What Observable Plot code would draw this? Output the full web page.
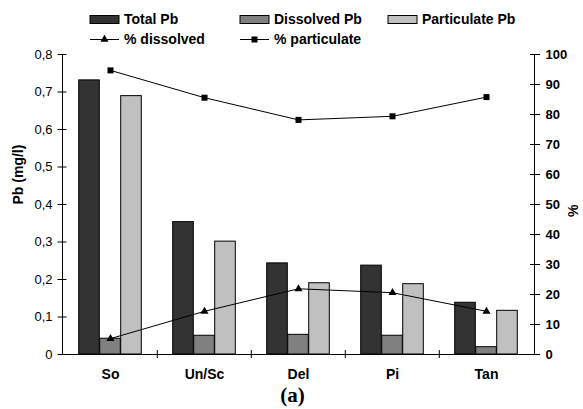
<!DOCTYPE html>
<html>
<head>
<meta charset="utf-8">
<script src="https://cdn.jsdelivr.net/npm/d3@7"></script>
<script src="https://cdn.jsdelivr.net/npm/@observablehq/plot@0.6"></script>
<style>
  html, body { margin: 0; padding: 0; background: #fff; }
  #wrap { position: relative; width: 583px; height: 409px; font-family: "Liberation Sans", Arial, sans-serif; }
  #legend { position: absolute; left: 0; top: 0; width: 583px; height: 50px; }
  #chart { position: absolute; left: 0; top: 0; }
</style>
</head>
<body>
<div id="wrap">
  <div id="chart"></div>
  <svg id="legend" width="583" height="50"></svg>
</div>
<script>
// ---- data ----
const categories = ["So", "Un/Sc", "Del", "Pi", "Tan"];
const totalPb = [0.731, 0.353, 0.243, 0.237, 0.138];
const dissolvedPb = [0.042, 0.050, 0.0525, 0.050, 0.0195];
const particulatePb = [0.689, 0.301, 0.190, 0.1875, 0.1165];
const pctDissolved = [5.3, 14.4, 21.9, 20.6, 14.4];
const pctParticulate = [94.7, 85.6, 78.2, 79.4, 85.8];
const leftTicks = [0, 0.1, 0.2, 0.3, 0.4, 0.5, 0.6, 0.7, 0.8];
const rightTicks = [0, 10, 20, 30, 40, 50, 60, 70, 80, 90, 100];
const barSeries = ["Total Pb", "Dissolved Pb", "Particulate Pb"];
const barColors = ["#333333", "#808080", "#c0c0c0"];
const lineSeries = ["% dissolved", "% particulate"];

const k = 0.8 / 100; // right-axis (%) to left-axis (mg/l) mapping
const fmtLeft = d => d === 0 ? "0" : d.toFixed(1).replace(".", ",");

const W = 583, H = 409, mL = 62, mR = 49, mT = 54, mB = 55;
const bw = (W - mL - mR) / categories.length;
const barW = 21;
const g0 = bw / 2 - 1.5 * barW;
const insets = [0, 1, 2].map(j => [g0 + j * barW, bw - (g0 + (j + 1) * barW)]);
const values = [totalPb, dissolvedPb, particulatePb];

const barMarks = values.map((vals, j) =>
  Plot.barY(categories, {
    x: d => d, y: (d, i) => vals[i],
    fill: barColors[j], stroke: "#000", strokeWidth: 1,
    insetLeft: insets[j][0], insetRight: insets[j][1]
  })
);

const chart = Plot.plot({
  width: W, height: H,
  marginLeft: mL, marginRight: mR, marginTop: mT, marginBottom: mB,
  style: { fontFamily: "'Liberation Sans', Arial, sans-serif", background: "transparent", color: "#000" },
  x: { domain: categories, padding: 0, axis: null },
  y: { domain: [0, 0.8], axis: null },
  marks: [
    ...barMarks,
    Plot.line(categories, { x: d => d, y: (d, i) => pctParticulate[i] * k, stroke: "#000", strokeWidth: 1 }),
    Plot.dot(categories, { x: d => d, y: (d, i) => pctParticulate[i] * k, symbol: "square", r: 3.4, fill: "#000" }),
    Plot.line(categories, { x: d => d, y: (d, i) => pctDissolved[i] * k, stroke: "#000", strokeWidth: 1 }),
    Plot.dot(categories, { x: d => d, y: (d, i) => pctDissolved[i] * k, symbol: "triangle", r: 3, fill: "#000" }),
    // axis lines
    Plot.frame({ anchor: "left", stroke: "#000" }),
    Plot.frame({ anchor: "right", stroke: "#000" }),
    Plot.ruleY([0], { stroke: "#000" }),
    // left axis
    Plot.axisY(leftTicks, { anchor: "left", tickSize: 9, dx: 4.5, tickFormat: () => "", label: null }),
    Plot.axisY(leftTicks, { anchor: "left", tickSize: 0, tickPadding: 10, tickFormat: fmtLeft, fontSize: 13, label: null }),
    // right axis
    Plot.axisY(rightTicks.map(v => v * k), { anchor: "right", tickSize: 10, dx: -5, tickFormat: () => "", label: null }),
    Plot.axisY(rightTicks.map(v => v * k), { anchor: "right", tickSize: 0, tickPadding: 11, tickFormat: d => String(Math.round(d / k)), fontSize: 13, fontWeight: "bold", label: null }),
    // x axis
    Plot.axisX(categories.slice(1), { anchor: "bottom", tickSize: 8, dx: -bw / 2, dy: -4, tickFormat: () => "", label: null }),
    Plot.axisX(categories, { anchor: "bottom", tickSize: 0, tickPadding: 15, fontSize: 14, fontWeight: "bold", label: null }),
    // axis titles
    Plot.text(["Pb (mg/l)"], { frameAnchor: "left", rotate: -90, dx: -44, fontSize: 14, fontWeight: "bold", text: d => d }),
    Plot.text(["%"], { frameAnchor: "right", rotate: -90, dx: 39, fontSize: 14, fontWeight: "bold", text: d => d }),
    // caption
    Plot.text(["(a)"], { frameAnchor: "bottom", dx: -6, dy: 47, fontSize: 21, fontWeight: "bold", fontFamily: "'Liberation Serif', 'Times New Roman', serif", text: d => d })
  ]
});
document.getElementById("chart").appendChild(chart);

// ---- legend (HTML/SVG, outside the plot) ----
const lg = d3.select("#legend");
const colX = [90, 240, 388];
const row1 = 19.5, row2 = 39.5, swW = 29, swH = 8;
barSeries.forEach((name, j) => {
  lg.append("rect").attr("x", colX[j]).attr("y", row1 - swH / 2).attr("width", swW).attr("height", swH)
    .attr("fill", barColors[j]).attr("stroke", "#000").attr("stroke-width", 1);
  lg.append("text").attr("x", colX[j] + swW + 5).attr("y", row1).attr("dy", "0.35em")
    .attr("font-size", 14).attr("font-weight", "bold").attr("font-family", "'Liberation Sans', Arial, sans-serif").text(name);
});
const syms = [d3.symbolTriangle, d3.symbolSquare];
const symSize = [Math.PI * 9, Math.PI * 3.4 * 3.4];
lineSeries.forEach((name, j) => {
  lg.append("line").attr("x1", colX[j]).attr("x2", colX[j] + swW).attr("y1", row2).attr("y2", row2).attr("stroke", "#000").attr("stroke-width", 1);
  lg.append("path").attr("d", d3.symbol(syms[j], symSize[j])()).attr("transform", `translate(${colX[j] + swW / 2},${row2})`).attr("fill", "#000");
  lg.append("text").attr("x", colX[j] + swW + 5).attr("y", row2).attr("dy", "0.35em")
    .attr("font-size", 14).attr("font-weight", "bold").attr("font-family", "'Liberation Sans', Arial, sans-serif").text(name);
});
</script>
</body>
</html>
